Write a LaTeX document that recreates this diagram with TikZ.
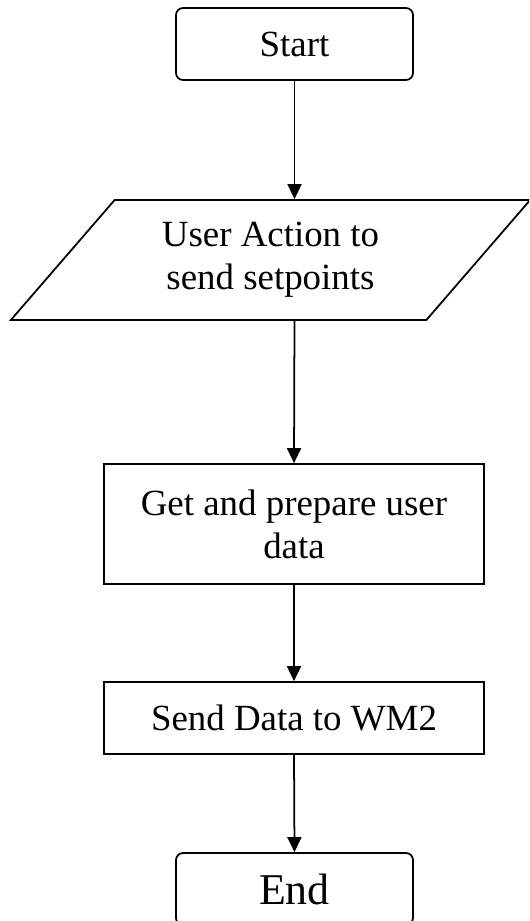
\documentclass[tikz,border=0pt]{standalone}
\usepackage{fontspec}
\setmainfont{Liberation Serif}
\usetikzlibrary{arrows.meta,shapes.geometric}

\begin{document}
\begin{tikzpicture}[x=0.02cm,y=-0.02cm,>={Triangle[length=0.3cm,width=0.28cm]},
  line width=1pt,
  termbox/.style={draw,rounded corners=0.14cm,minimum width=4.74cm,minimum height=1.44cm,font=\fontsize{21}{24}\selectfont},
  iobox/.style={draw,trapezium,trapezium left angle=48.8,trapezium right angle=131.2,trapezium stretches=true,minimum width=10.42cm,minimum height=2.4cm,align=center,font=\fontsize{21}{24.5}\selectfont},
  procbox/.style={draw,minimum width=7.6cm,align=center,font=\fontsize{21}{24.5}\selectfont}]
\clip (0,0) rectangle (529,921);
\node[termbox] (start) at (294.5,44) {Start};
\node[iobox] (act) at (270.5,260) {User Action to\\send setpoints};
\node[procbox,minimum height=2.4cm] (prep) at (294,524) {Get and prepare user\\data};
\node[procbox,minimum height=1.44cm] (send) at (294,718) {Send Data to WM2};
\node[termbox,font=\fontsize{25}{28}\selectfont] (stop) at (294.5,889) {End};
\draw[->] (start.south) -- (start.south |- act.north);
\draw[->] (start.south |- act.south) -- (prep.north);
\draw[->] (prep.south) -- (send.north);
\draw[->] (send.south) -- (stop.north);
\end{tikzpicture}
\end{document}
